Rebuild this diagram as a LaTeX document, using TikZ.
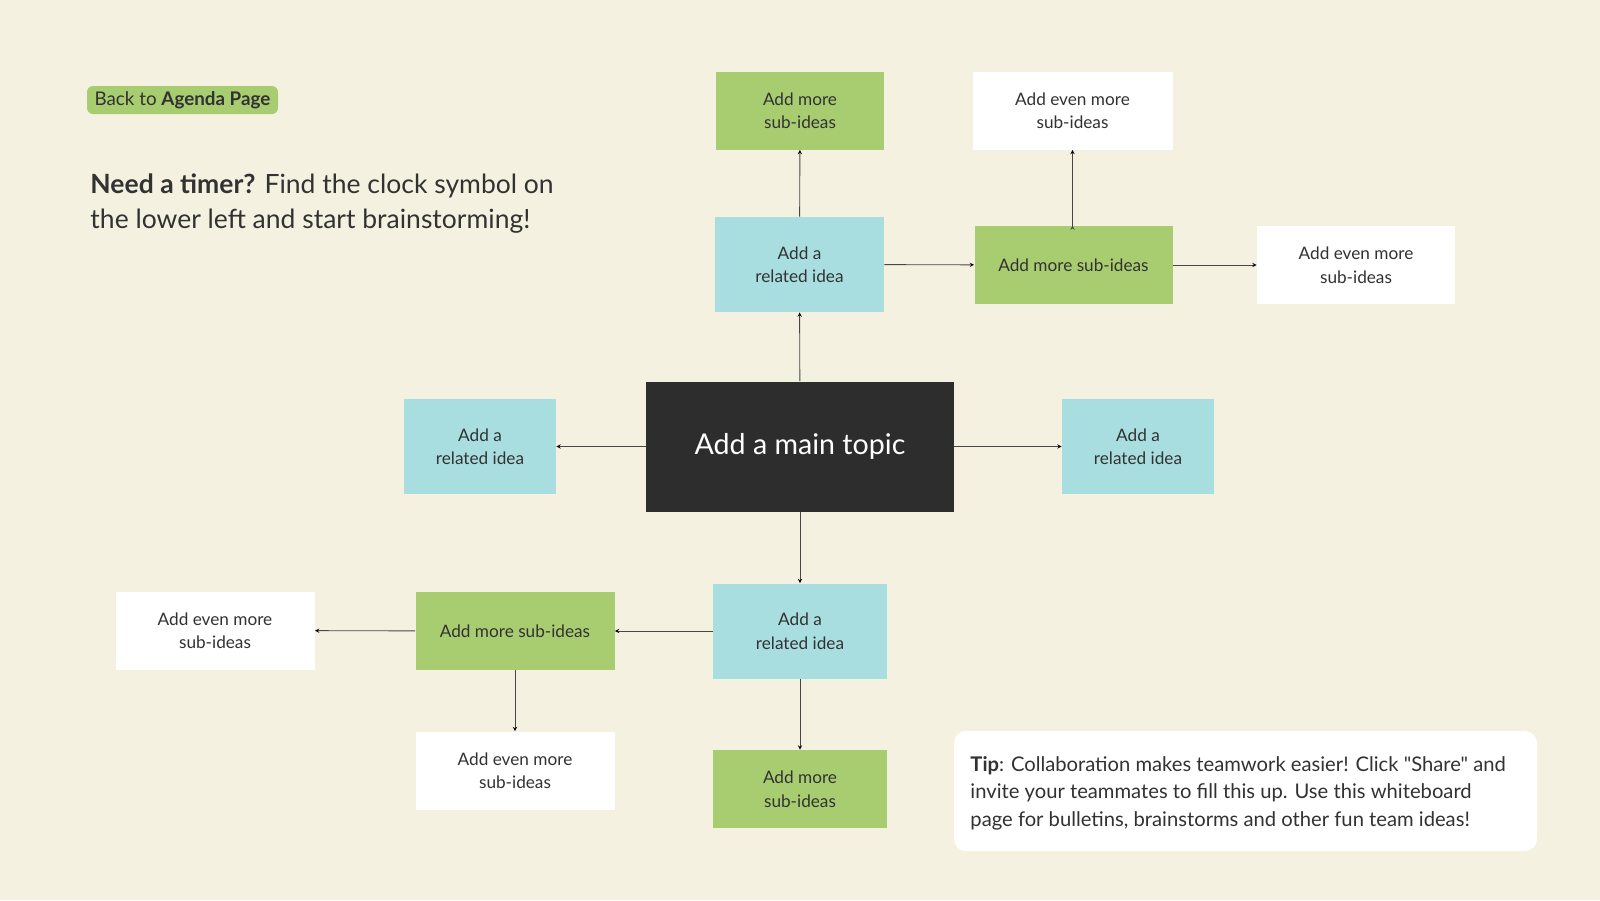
\documentclass[tikz,border=0pt]{standalone}
\usepackage{fontspec}
\setmainfont{Lato}[Ligatures=TeXOff]
\usepackage{tikz}
\usetikzlibrary{arrows,positioning}
\definecolor{cream}{RGB}{245,241,224}
\definecolor{ideablue}{RGB}{168,222,224}
\definecolor{subgreen}{RGB}{168,205,112}
\definecolor{topicdark}{RGB}{45,45,45}
\definecolor{inkgray}{RGB}{50,50,50}
\definecolor{linegray}{RGB}{70,70,70}
\tikzset{every picture/.style={line width=0.9pt}}
\tikzstyle{boxtext}=[font=\fontsize{17.2}{23.5}\selectfont,text=inkgray,align=center,inner sep=0pt]
\tikzstyle{idea}=[boxtext,fill=ideablue,minimum height=95pt]
\tikzstyle{sub}=[boxtext,fill=subgreen,minimum height=78pt]
\tikzstyle{more}=[boxtext,fill=white,minimum height=78pt]

\begin{document}
\begin{tikzpicture}[x=1pt,y=-1pt]
\fill[cream] (0,0) rectangle (1600,900);
\useasboundingbox (0,0) rectangle (1600,900);
% header texts
\node[fill=subgreen,rounded corners=6pt,minimum width=191pt,minimum height=28pt,inner sep=0pt,
  font=\fontsize{18.8}{20}\selectfont,text=inkgray] (back) at (182.5,100) {Back to \textbf{Agenda Page}};
\node[anchor=west,align=left,inner sep=0pt,font=\fontsize{26.5}{35}\selectfont,text=inkgray] (timer) at (90,204)
  {\textbf{Need a timer?} Find the clock symbol on\\the lower left and start brainstorming!};
% mind map
\node[fill=topicdark,text=white,minimum width=308pt,minimum height=130pt,font=\fontsize{28.6}{30}\selectfont] (M) at (800,446.5) {Add a main topic};
\node[idea,minimum width=169pt] (T) at (799.5,264.5) {Add a\\related idea};
\node[idea,minimum width=152pt] (L) at (480,446.5) {Add a\\related idea};
\node[idea,minimum width=152pt] (R) at (1138,446.5) {Add a\\related idea};
\node[idea,minimum width=174pt] (B) at (800,631) {Add a\\related idea};
\node[sub,minimum width=168pt] (T1) at (800,110.5) {Add more\\sub-ideas};
\node[sub,minimum width=198pt] (T2) at (1073.5,265) {Add more sub-ideas};
\node[more,minimum width=200pt] (T3) at (1072.5,110.5) {Add even more\\sub-ideas};
\node[more,minimum width=198pt] (T4) at (1356,265) {Add even more\\sub-ideas};
\node[sub,minimum width=174pt] (B1) at (800,789) {Add more\\sub-ideas};
\node[sub,minimum width=199pt] (B2) at (515,631) {Add more sub-ideas};
\node[more,minimum width=199pt] (B3) at (215,630.5) {Add even more\\sub-ideas};
\node[more,minimum width=199pt] (B4) at (515,770.5) {Add even more\\sub-ideas};
% tip
\node[fill=white,rounded corners=12pt,minimum width=583pt,minimum height=120pt] (tipbox) at (1245.5,791) {};
\node[anchor=west,align=left,inner sep=0pt,font=\fontsize{20.2}{27.5}\selectfont,text=inkgray] (tip) at (970,793)
  {\textbf{Tip}: Collaboration makes teamwork easier! Click "Share" and\\invite your teammates to fill this up. Use this whiteboard\\page for bulletins, brainstorms and other fun team ideas!};
\path[->,>=stealth,draw=linegray]
(M) edge (T)
(M) edge (L)
(M) edge (R)
(M) edge (B)
(T) edge (T1)
(T) edge (T2)
(T2.north -| T3) edge (T3)
(T2) edge (T4)
(B) edge (B1)
(B) edge (B2)
(B2) edge (B3)
(B2) edge (B4);
\end{tikzpicture}
\end{document}
